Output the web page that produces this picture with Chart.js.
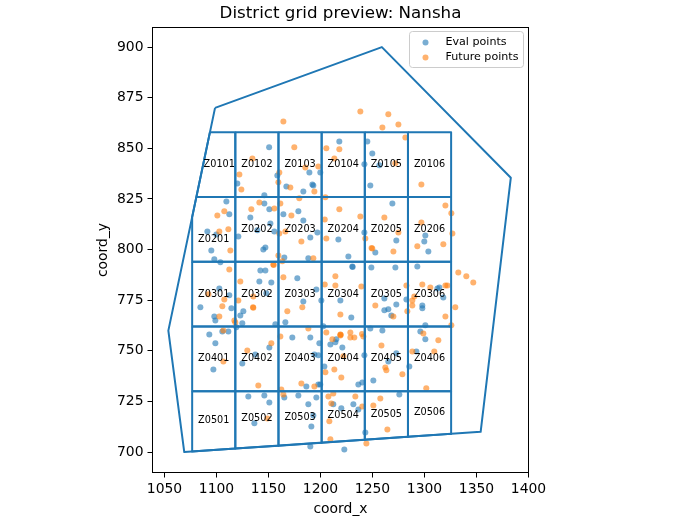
<!DOCTYPE html>
<html>
<head>
<meta charset="utf-8">
<title>District grid preview</title>
<script src="https://cdn.jsdelivr.net/npm/chart.js@4"></script>
<style>
  html, body { margin: 0; padding: 0; background: #fff; }
  canvas { display: block; }
</style>
</head>
<body>
<canvas id="grafico" width="680" height="520"></canvas>
<script>
const districtName = 'Nansha';

const xTicks = [1050, 1100, 1150, 1200, 1250, 1300, 1350, 1400];
const yTicks = [700, 725, 750, 775, 800, 825, 850, 875, 900];

// district outline
const boundaryX = [1098.6, 1259, 1383, 1354, 1069, 1053.7];
const boundaryY = [870, 900, 835.5, 710, 700, 760];

// grid edges, cells get clipped to the outline below
const gridX = [1076.6, 1118.1, 1159.6, 1201.1, 1242.6, 1284.1, 1325.6];
const gridY = [858, 826, 794, 762, 730, 690];

const cellIds = [
  ['Z0101', 'Z0102', 'Z0103', 'Z0104', 'Z0105', 'Z0106'],
  ['Z0201', 'Z0202', 'Z0203', 'Z0204', 'Z0205', 'Z0206'],
  ['Z0301', 'Z0302', 'Z0303', 'Z0304', 'Z0305', 'Z0306'],
  ['Z0401', 'Z0402', 'Z0403', 'Z0404', 'Z0405', 'Z0406'],
  ['Z0501', 'Z0502', 'Z0503', 'Z0504', 'Z0505', 'Z0506']
];

const evalX = [1150.6, 1120, 1158.5, 1189.3, 1199.8, 1167.2, 1192.2, 1193.1, 1183.5, 1146,
  1146, 1109.5, 1112.3, 1150.8, 1132.5, 1164.3, 1178.7, 1183.5, 1218.1, 1245,
  1249.8, 1242.2, 1256.6, 1247.9, 1269.1, 1091.2, 1099.8, 1095, 1097.9, 1103.7,
  1121, 1139.3, 1151.8, 1155.6, 1145, 1147, 1197, 1190.2, 1165.2, 1188.3,
  1142.2, 1147, 1141.2, 1152.7, 1177.7, 1196, 1102.7, 1112.3, 1084.5, 1097.9,
  1098.9, 1114.3, 1125.8, 1122.9, 1119.1, 1124.8, 1147.9, 1183.5, 1200.8, 1156.6,
  1166.2, 1202.7, 1093.1, 1105.6, 1111.4, 1242.2, 1300.8, 1217.2, 1272.9, 1299.8,
  1252.7, 1303.7, 1226.8, 1230.6, 1230.9, 1248.9, 1272, 1293.1, 1312.4, 1314.3,
  1318.1, 1219.1, 1261.4, 1282.6, 1272.9, 1297.9, 1297.9, 1261.4, 1265.2, 1268.1,
  1229.6, 1300.8, 1247.9, 1259.5, 1296, 1098.9, 1097, 1137.3, 1124.8, 1150.8,
  1172.9, 1190.2, 1198.9, 1209.5, 1194.1, 1197.9, 1203.7, 1186.4, 1197.9, 1199.8,
  1130.6, 1146, 1150.8, 1136.4, 1165.2, 1178.7, 1196, 1188.3, 1193.1, 1191.2,
  1190.2, 1214.3, 1215.2, 1221, 1242.2, 1272.9, 1265.2, 1292.2, 1300.8, 1285.4,
  1250.8, 1240.2, 1236.4, 1275.8, 1212.3, 1220, 1231.6, 1236.4, 1243.1, 1222.9];
const evalY = [850.5, 832.7, 836.6, 838.1, 838.1, 831.2, 832.2, 831.7, 828.7, 826.8,
  822.8, 823.8, 817.4, 819.9, 815.9, 817.4, 818.9, 814.4, 853.4, 853.4,
  847.5, 842.1, 841.6, 831.7, 822.8, 809, 807.5, 799.6, 795.2, 793.7,
  806.5, 809.5, 812.9, 809, 800.1, 801.1, 808.5, 806, 796.1, 795.7,
  789.7, 789.7, 784.3, 783.8, 785.8, 780.3, 780.8, 777.4, 771.5, 767,
  765, 771, 769.5, 767.5, 761.6, 763.6, 778.4, 774.4, 774.9, 763.1,
  764.1, 762.1, 758.1, 759.6, 759.6, 808.5, 807, 805, 804.5, 804,
  798.6, 799.1, 796.6, 791.7, 791.4, 791.2, 791.2, 791.7, 780.8, 781.3,
  776.4, 774.9, 775.9, 775.4, 772.9, 772.4, 771, 770, 770.5, 767.5,
  766.5, 762.6, 761.1, 760.1, 759.6, 753.7, 740.8, 748.2, 743.8, 751.7,
  756.6, 756.6, 753.7, 753.2, 748.2, 747.8, 742.3, 732.4, 733.4, 733.4,
  727.5, 728, 724.5, 714.2, 727, 728, 727, 723.6, 718.1, 712.7,
  702.8, 754.2, 755.7, 751.7, 747.8, 748.8, 744.8, 749.7, 755.7, 742.3,
  735.4, 734.4, 733.4, 728.5, 723.6, 721.6, 723.6, 721.1, 709.7, 701.3];

const futureX = [1164.3, 1174.8, 1134.5, 1122, 1123.9, 1160.4, 1159.5, 1171, 1185.4, 1197.9,
  1194.1, 1205.6, 1204.7, 1179.6, 1107.5, 1100.8, 1133.5, 1141.2, 1155.6, 1161.4,
  1172, 1238.3, 1265.2, 1259.5, 1274.9, 1281.6, 1218.1, 1213.3, 1271.9, 1297,
  1218.1, 1238.3, 1261.4, 1320.1, 1325.8, 1204.1, 1102.7, 1111.4, 1113.3, 1112.3,
  1122.9, 1092.2, 1107.5, 1105.6, 1121, 1102.7, 1117.2, 1118.1, 1106.6, 1135.4,
  1135.1, 1135.4, 1160.4, 1166.2, 1181.6, 1205.6, 1159.5, 1154.6, 1155, 1163.3,
  1193.1, 1164.3, 1168.1, 1182.5, 1204.1, 1188.3, 1205.6, 1243.1, 1297, 1274.9,
  1326.8, 1293.1, 1318.1, 1249.8, 1249.1, 1270.1, 1214.3, 1214.3, 1239.3, 1282.6,
  1297.9, 1305.6, 1320.1, 1322, 1332.5, 1340.2, 1346.9, 1290.2, 1288.3, 1288.3,
  1252.7, 1329.6, 1283.5, 1219.1, 1270.1, 1320.1, 1325.8, 1228.7, 1219.1, 1298.9,
  1239.9, 1106.6, 1129.6, 1152.7, 1140.2, 1161.4, 1204.7, 1181.6, 1194.1, 1162.3,
  1164.3, 1207.6, 1148.9, 1208.5, 1210.4, 1209.5, 1211.4, 1219.1, 1219.4, 1228.7,
  1232.5, 1241.2, 1258.6, 1313.3, 1288.3, 1309.4, 1222, 1213.3, 1220, 1262.3,
  1263.3, 1278.7, 1301.7, 1212.3, 1233.5, 1257.5, 1250.8, 1240.2, 1264.3, 1244.1];
const futureY = [863.3, 850.5, 845, 837.1, 829.7, 838.1, 833.2, 830.7, 840.6, 841.1,
  828.7, 850, 825.8, 825.3, 818.9, 816.9, 819.9, 823.3, 820.3, 822.8,
  816.9, 868.2, 866.8, 860.3, 861.8, 855.4, 849.5, 845, 842.6, 832.2,
  819.9, 816.4, 815.9, 821.8, 817.9, 814.9, 809, 810, 799.6, 790.2,
  784.3, 777.9, 775.4, 772, 774.9, 767, 765, 764, 760.1, 776.9,
  771.5, 771.3, 808, 809, 804, 805.5, 797.1, 792.7, 792.4, 794.2,
  795.7, 786.3, 769.5, 771.5, 782.8, 761.1, 759.1, 805.5, 813.4, 808.5,
  808, 801.6, 802.6, 800.6, 800.8, 799.1, 786.8, 782.3, 781.8, 782.3,
  782.8, 781.3, 782.3, 782.3, 788.7, 786.8, 783.8, 776.9, 774.9, 772.4,
  772.4, 771.5, 769.5, 768, 767, 767, 762.6, 759.1, 758.1, 758.6,
  758.3, 744.8, 750.2, 753.7, 732.9, 757.1, 739.4, 733.9, 732.4, 730.9,
  728.5, 727.5, 716.6, 715.2, 724, 706.3, 755.7, 757.6, 757.9, 756.6,
  756.6, 757.1, 752.7, 755.2, 749.7, 749.7, 747.3, 740.8, 736.9, 741.8,
  740.4, 738.4, 731.5, 729, 727.5, 726.5, 723, 722.5, 711.2, 704.3];

const corAzul = '#1f77b4';
const corLaranja = '#ff7f0e';
const fonte = '"DejaVu Sans", sans-serif';

function pares(xs, ys) {
  return xs.map((x, i) => ({ x: x, y: ys[i] }));
}

// Sutherland-Hodgman against the district outline (clockwise, y up)
function recortar(celula, contorno) {
  let saida = celula;
  contorno.forEach((a, i) => {
    const b = contorno[(i + 1) % contorno.length];
    const lado = p => (b.x - a.x) * (p.y - a.y) - (b.y - a.y) * (p.x - a.x);
    const entrada = saida;
    saida = [];
    entrada.forEach((p, j) => {
      const q = entrada[(j + 1) % entrada.length];
      const d1 = lado(p), d2 = lado(q);
      if (d1 <= 0) saida.push(p);
      if ((d1 <= 0) !== (d2 <= 0)) {
        const t = d1 / (d1 - d2);
        saida.push({ x: p.x + t * (q.x - p.x), y: p.y + t * (q.y - p.y) });
      }
    });
  });
  return saida;
}

// label anchor: scanline between the vertices nearest the mid height,
// then the middle of the span it cuts through the cell
function pontoInterior(pts) {
  const ys = pts.map(p => p.y);
  const meio = (Math.min(...ys) + Math.max(...ys)) / 2;
  const acima = Math.min(...ys.filter(y => y > meio));
  const abaixo = Math.max(...ys.filter(y => y <= meio));
  const linha = (acima + abaixo) / 2;
  const cortes = [];
  pts.forEach((p, i) => {
    const q = pts[(i + 1) % pts.length];
    if ((p.y > linha) !== (q.y > linha)) {
      cortes.push(p.x + (linha - p.y) / (q.y - p.y) * (q.x - p.x));
    }
  });
  return { x: (Math.min(...cortes) + Math.max(...cortes)) / 2, y: linha };
}

const contorno = pares(boundaryX, boundaryY);
const celulas = [];
cellIds.forEach((linha, r) => {
  linha.forEach((id, c) => {
    const pts = recortar([
      { x: gridX[c], y: gridY[r] },
      { x: gridX[c + 1], y: gridY[r] },
      { x: gridX[c + 1], y: gridY[r + 1] },
      { x: gridX[c], y: gridY[r + 1] }
    ], contorno);
    celulas.push({ id: id, pts: pts, centro: pontoInterior(pts) });
  });
});

function linhaFechada(pts, rotulo) {
  return {
    type: 'scatter',
    label: rotulo,
    data: pts.concat([pts[0]]),
    showLine: true,
    fill: false,
    tension: 0,
    borderColor: corAzul,
    borderWidth: 2,
    borderJoinStyle: 'round',
    pointRadius: 0,
    order: 1
  };
}

const pontos = (rotulo, dados, cor, ordem) => ({
  type: 'scatter',
  label: rotulo,
  data: dados,
  backgroundColor: cor + '99',
  borderWidth: 0,
  pointRadius: 3,
  order: ordem
});

// cell ids, plot frame and the legend box go on top of the datasets
const extras = {
  id: 'extras',
  afterLayout(chart) {
    // title centred over the plot box, not over the whole canvas
    chart.titleBlock.left = chart.chartArea.left;
    chart.titleBlock.right = chart.chartArea.right;
  },
  afterDatasetsDraw(chart) {
    const ctx = chart.ctx;
    const { x, y } = chart.scales;
    const area = chart.chartArea;

    ctx.save();
    ctx.fillStyle = '#000';
    ctx.font = '9.7px ' + fonte;
    ctx.textAlign = 'center';
    ctx.textBaseline = 'middle';
    celulas.forEach(c => {
      ctx.fillText(c.id, x.getPixelForValue(c.centro.x), y.getPixelForValue(c.centro.y));
    });

    ctx.strokeStyle = '#000';
    ctx.lineWidth = 1;
    ctx.strokeRect(area.left, area.top, area.right - area.left, area.bottom - area.top);

    // legend
    const bx = 409.5, by = 31.5, bw = 114, bh = 36;
    ctx.beginPath();
    ctx.roundRect(bx, by, bw, bh, 3);
    ctx.fillStyle = 'rgba(255,255,255,0.8)';
    ctx.fill();
    ctx.strokeStyle = '#ccc';
    ctx.stroke();

    const itens = [
      { texto: 'Eval points', cor: corAzul, py: by + 11 },
      { texto: 'Future points', cor: corLaranja, py: by + 26 }
    ];
    ctx.textAlign = 'left';
    ctx.font = '11.1px ' + fonte;
    itens.forEach(it => {
      ctx.beginPath();
      ctx.arc(bx + 16, it.py, 3, 0, Math.PI * 2);
      ctx.fillStyle = it.cor + '99';
      ctx.fill();
      ctx.fillStyle = '#000';
      ctx.fillText(it.texto, bx + 36, it.py);
    });
    ctx.restore();
  }
};

const eixo = (titulo, min, max, marcas) => ({
  type: 'linear',
  min: min,
  max: max,
  afterBuildTicks: s => { s.ticks = marcas.map(v => ({ value: v })); },
  title: {
    display: true,
    text: titulo,
    color: '#000',
    font: { family: fonte, size: 13.9 },
    padding: { top: 2, bottom: 2 }
  },
  ticks: {
    color: '#000',
    font: { family: fonte, size: 13.9 },
    padding: 4,
    maxRotation: 0,
    autoSkip: false,
    callback: v => String(v)
  },
  grid: { drawOnChartArea: false, drawTicks: true, tickLength: 5, tickColor: '#000', tickWidth: 1 },
  border: { display: true, color: '#000', width: 1 }
});

const escalaX = eixo('coord_x', 1038.46, 1400, xTicks);
const escalaY = eixo('coord_y', 689.93, 909.68, yTicks);

// fixed plot box
escalaX.afterFit = s => { s.height = 47.5; };
escalaY.afterFit = s => { s.width = 59.5; };

new Chart(document.getElementById('grafico'), {
  data: {
    datasets: [
      pontos('Eval points', pares(evalX, evalY), corAzul, 3),
      pontos('Future points', pares(futureX, futureY), corLaranja, 2),
      linhaFechada(contorno, 'Boundary')
    ].concat(celulas.map(c => linhaFechada(c.pts, c.id)))
  },
  options: {
    responsive: false,
    animation: false,
    layout: { padding: { left: 93, right: 151.5, top: 0, bottom: 0 } },
    plugins: {
      legend: { display: false },
      tooltip: { enabled: false },
      title: {
        display: true,
        text: 'District grid preview: ' + districtName,
        color: '#000',
        font: { family: fonte, size: 16.7, weight: 'normal' },
        padding: { top: 3.46, bottom: 4 }
      }
    },
    scales: { x: escalaX, y: escalaY }
  },
  plugins: [extras]
});
</script>
</body>
</html>
